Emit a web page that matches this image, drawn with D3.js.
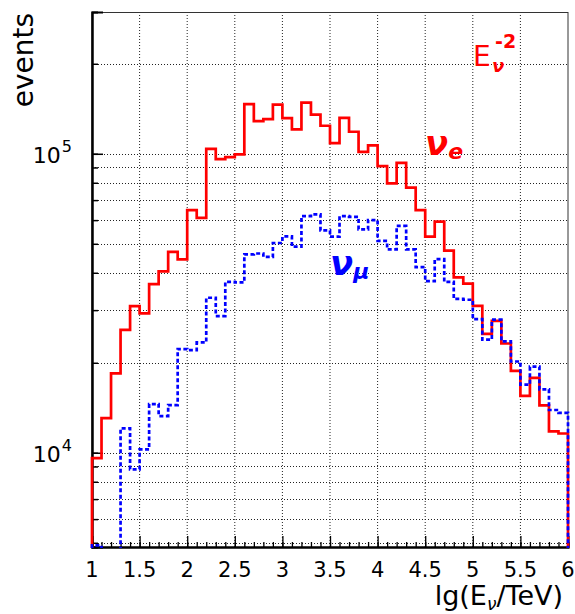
<!DOCTYPE html>
<html>
<head>
<meta charset="utf-8">
<script src="https://cdn.jsdelivr.net/npm/d3@7"></script>
<style>
body { margin: 0; background: #fff; }
text { font-family: "DejaVu Sans", "Liberation Sans", sans-serif; }
</style>
</head>
<body>
<div class="chart"></div>
<script>
// bin edges in lg(E/TeV)
const binEdges = [1.0, 1.1, 1.2, 1.3, 1.4, 1.5, 1.6, 1.7, 1.8, 1.9,
  2.0, 2.1, 2.2, 2.3, 2.4, 2.5, 2.6, 2.7, 2.8, 2.9,
  3.0, 3.1, 3.2, 3.3, 3.4, 3.5, 3.6, 3.7, 3.8, 3.9,
  4.0, 4.1, 4.2, 4.3, 4.4, 4.5, 4.6, 4.7, 4.8, 4.9,
  5.0, 5.1, 5.2, 5.3, 5.4, 5.5, 5.6, 5.7, 5.8, 5.9, 6.0];

// nu_e events per bin (red, solid)
const nuE = [9600, 13060, 18430, 25780, 30960, 29250, 36650, 40440, 46990, 44360,
  64800, 61090, 103900, 96000, 97500, 99500, 146600, 128600, 130600, 146000,
  131600, 120700, 148300, 135200, 124100, 108600, 131900, 118500, 101500, 106700,
  91000, 79600, 93300, 77000, 64800, 52800, 59300, 47400, 38600, 36800,
  31000, 25000, 27600, 23200, 18800, 15500, 17800, 14400, 11800, 11600];

// nu_mu events per bin (blue, dashed)
const nuMu = [4900, 0, 0, 12070, 8800, 10270, 14550, 13270, 14440, 22230,
  22060, 23400, 33000, 28660, 37300, 37150, 46100, 46400, 45200, 50300,
  52900, 48900, 61900, 62700, 55400, 52800, 61900, 61500, 55900, 60000,
  51100, 47900, 57400, 47900, 41800, 37500, 44400, 37300, 32700, 32500,
  28000, 23900, 27900, 23600, 20200, 16900, 19400, 16300, 13900, 13600];

const xMajor = [1, 1.5, 2, 2.5, 3, 3.5, 4, 4.5, 5, 5.5, 6];
const yLabelled = [1e4, 1e5];

let margin = { top: 12, right: 7, bottom: 67, left: 92 },
  width = 575 - margin.left - margin.right,
  height = 614 - margin.top - margin.bottom;

let svg = d3.select(".chart").append("svg")
  .attr("width", width + margin.left + margin.right)
  .attr("height", height + margin.top + margin.bottom)
  .append("g")
  .attr("transform", "translate(" + margin.left + "," + margin.top + ")");

const x = d3.scaleLinear().domain([1, 6]).range([0, width]);
const y = d3.scaleLog().domain([4840, 298000]).range([height, 0]);

// grid
svg.append("g")
  .selectAll("line")
  .data(xMajor.slice(1, -1))
  .join("line")
  .attr("x1", d => x(d)).attr("x2", d => x(d))
  .attr("y1", 0).attr("y2", height)
  .attr("stroke", "#222").attr("stroke-width", 1)
  .attr("stroke-dasharray", "1,2");

svg.append("g")
  .selectAll("line")
  .data(y.ticks())
  .join("line")
  .attr("x1", 0).attr("x2", width)
  .attr("y1", d => Math.round(y(d)) + 0.5).attr("y2", d => Math.round(y(d)) + 0.5)
  .attr("stroke", "#222").attr("stroke-width", 1)
  .attr("stroke-dasharray", "1,2");

// frame
svg.append("rect")
  .attr("x", 0).attr("y", 0.5)
  .attr("width", width).attr("height", height)
  .attr("fill", "none").attr("stroke", "#333").attr("stroke-width", 1);

// x axis ticks (inward)
let xAxis = svg.append("g").attr("transform", "translate(0," + height + ")");
xAxis.call(d3.axisBottom(x).tickValues(d3.range(10, 61).map(d => d / 10))
  .tickSize(-5).tickFormat(""));
xAxis.append("g").call(d3.axisBottom(x).tickValues(xMajor).tickSize(-11).tickFormat(""));
xAxis.selectAll(".domain").attr("stroke", "#000").attr("stroke-width", 2);
xAxis.selectAll(".tick line").attr("stroke", "#000").attr("stroke-width", 1.3);

svg.append("g")
  .selectAll("text")
  .data(xMajor)
  .join("text")
  .attr("x", d => x(d))
  .attr("y", height + 30)
  .attr("text-anchor", "middle")
  .attr("font-size", 21)
  .text(d => d);

// y axis ticks (inward)
let yAxis = svg.append("g");
yAxis.call(d3.axisLeft(y).tickValues(y.ticks()).tickSize(-6).tickFormat(""));
yAxis.append("g").call(d3.axisLeft(y).tickValues(yLabelled).tickSize(-11).tickFormat(""));
yAxis.selectAll(".domain").attr("stroke", "#000").attr("stroke-width", 2);
yAxis.selectAll(".tick line").attr("stroke", "#000").attr("stroke-width", 1.5);

let yLab = svg.append("g")
  .selectAll("text")
  .data(yLabelled)
  .join("text")
  .attr("x", -20)
  .attr("y", d => y(d) + 9)
  .attr("text-anchor", "end")
  .attr("font-size", 22);
yLab.append("tspan").text("10");
yLab.append("tspan").attr("font-size", 16).attr("dx", 1).attr("dy", -11)
  .text(d => Math.round(Math.log10(d)));

// axis titles
svg.append("text")
  .attr("transform", "translate(" + (33 - margin.left) + "," + 1 + ") rotate(-90)")
  .attr("text-anchor", "end")
  .attr("font-size", 28)
  .text("events");

let xt = svg.append("text")
  .attr("x", 471).attr("y", height + 58)
  .attr("text-anchor", "end")
  .attr("font-size", 27);
xt.append("tspan").text("lg(E");
xt.append("tspan").attr("font-size", 17).attr("font-style", "italic").attr("dy", 5).text("ν");
xt.append("tspan").attr("dy", -5).text("/TeV)");

// histograms
svg.append("clipPath").attr("id", "clip")
  .append("rect").attr("x", -3).attr("y", -3).attr("width", width + 6).attr("height", height + 4);

function stepPoints(vals) {
  const bottom = height + 8;
  const pts = [[x(binEdges[0]), bottom]];
  vals.forEach((v, i) => {
    const yy = v > 0 ? y(v) : bottom;
    pts.push([x(binEdges[i]), yy], [x(binEdges[i + 1]), yy]);
  });
  pts.push([x(binEdges[binEdges.length - 1]), bottom]);
  return pts;
}

const line = d3.line();

svg.append("path")
  .datum(stepPoints(nuE))
  .attr("clip-path", "url(#clip)")
  .attr("d", line)
  .attr("fill", "none")
  .attr("stroke", "#ff0000")
  .attr("stroke-width", 2.7);

svg.append("path")
  .datum(stepPoints(nuMu))
  .attr("clip-path", "url(#clip)")
  .attr("d", line)
  .attr("fill", "none")
  .attr("stroke", "#0000ff")
  .attr("stroke-width", 2.7)
  .attr("stroke-dasharray", "4,2.5");

// labels
svg.append("text")
  .attr("x", 473 - margin.left).attr("y", 66 - margin.top)
  .attr("fill", "#ff0000").attr("font-size", 28)
  .text("E");
svg.append("text")
  .attr("x", 492 - margin.left).attr("y", 72 - margin.top)
  .attr("fill", "#ff0000").attr("font-size", 18)
  .attr("font-family", "Liberation Serif").attr("font-style", "italic").attr("font-weight", "bold")
  .text("ν");
svg.append("text")
  .attr("x", 495 - margin.left).attr("y", 48 - margin.top)
  .attr("fill", "#ff0000").attr("font-size", 19).attr("font-weight", "bold")
  .text("-2");

let nueLab = svg.append("text")
  .attr("x", 425 - margin.left).attr("y", 155 - margin.top)
  .attr("fill", "#ff0000").attr("font-family", "Liberation Serif")
  .attr("font-style", "italic").attr("font-weight", "bold").attr("font-size", 34);
nueLab.append("tspan").text("ν");
nueLab.append("tspan").attr("font-size", 22).attr("dy", 4).text("e");

let numuLab = svg.append("text")
  .attr("x", 330 - margin.left).attr("y", 275 - margin.top)
  .attr("fill", "#0000ff").attr("font-family", "Liberation Serif")
  .attr("font-style", "italic").attr("font-weight", "bold").attr("font-size", 34);
numuLab.append("tspan").text("ν");
numuLab.append("tspan").attr("font-size", 22).attr("dy", 4).text("μ");
</script>
</body>
</html>
